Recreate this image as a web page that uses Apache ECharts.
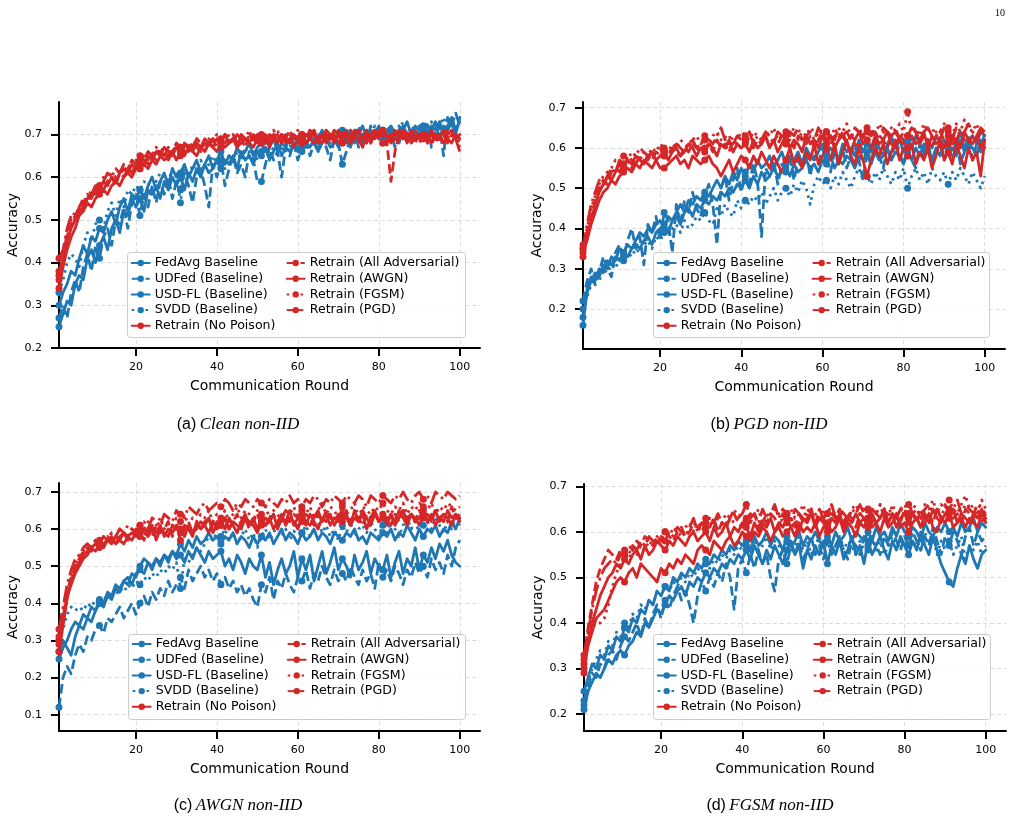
<!DOCTYPE html>
<html>
<head>
<meta charset="utf-8">
<title>Accuracy vs communication round</title>
<script src="https://cdn.jsdelivr.net/npm/echarts@6/dist/echarts.min.js"></script>
<style>
  html, body { margin: 0; padding: 0; background: #fff; }
  #main { width: 1026px; height: 822px; }
</style>
</head>
<body>
<div id="main"></div>
<script>
// accuracy values in percent, rounds 1..100
var rounds = [];
for (var r = 1; r <= 100; r++) rounds.push(r);

var xTicks = [20, 40, 60, 80, 100];
var yTicksA = [0.2, 0.3, 0.4, 0.5, 0.6, 0.7];
var yTicksB = [0.2, 0.3, 0.4, 0.5, 0.6, 0.7];
var yTicksC = [0.1, 0.2, 0.3, 0.4, 0.5, 0.6, 0.7];
var yTicksD = [0.2, 0.3, 0.4, 0.5, 0.6, 0.7];

var seriesNames = ['FedAvg Baseline', 'UDFed (Baseline)', 'USD-FL (Baseline)', 'SVDD (Baseline)',
  'Retrain (No Poison)', 'Retrain (All Adversarial)', 'Retrain (AWGN)', 'Retrain (FGSM)', 'Retrain (PGD)'];
var captions = [['(a)', 'Clean non-IID'], ['(b)', 'PGD non-IID'], ['(c)', 'AWGN non-IID'], ['(d)', 'FGSM non-IID']];

// (a) Clean non-IID
var aFedAvg = [25,28,31,30,35,37,36,41,43,40,44,46,43,48,50,47,52,51,55,53,55,52,57,56,58,55,59,57,60,58,60,57,61,59,62,60,63,61,62,64,62,64,63,65,62,66,64,65,63,66,65,67,64,66,68,65,67,66,68,67,66,68,67,69,66,68,69,67,68,70,68,69,67,70,69,68,70,69,71,69,70,68,71,69,70,72,70,69,71,70,71,70,72,71,73,70,72,74,71,73];
var aUDFed = [27,30,27,33,36,33,39,42,38,44,41,46,48,44,50,49,53,48,54,56,51,56,53,58,54,59,56,60,55,59,57,61,58,54,60,62,58,53,63,60,64,58,62,65,61,63,60,66,64,59,59,63,67,64,66,60,67,65,68,64,67,69,65,68,66,70,67,64,69,68,63,66,69,71,67,70,68,72,69,71,68,71,70,67,72,70,69,71,68,72,70,73,67,71,72,65,74,72,75,72];
var aUSDFL = [30,33,35,38,37,41,44,42,46,45,48,47,50,52,49,53,55,52,56,55,57,55,58,60,57,59,61,58,62,60,61,63,60,62,64,61,63,65,62,64,66,63,65,64,67,65,66,68,65,67,68,66,67,69,66,68,67,69,68,66,69,67,70,68,69,71,68,70,69,67,70,69,71,68,70,72,69,71,70,72,69,71,72,70,68,71,73,70,72,71,72,70,71,73,69,72,71,73,70,74];
var aSVDD = [33,36,40,42,41,39,44,47,45,49,50,48,52,54,51,55,53,57,56,58,57,59,58,60,59,61,60,59,62,61,54,62,60,63,61,64,62,63,65,63,64,62,65,63,66,64,67,65,66,64,66,68,65,67,69,66,68,67,69,68,67,69,70,68,70,69,71,68,70,69,71,70,71,69,72,70,71,69,72,70,71,69,72,70,71,73,70,72,71,70,72,71,73,70,72,74,71,73,72,71];
var aNoPoison = [34,39,43,46,48,51,52,54,53,55,56,57,56,58,59,58,60,61,60,62,62,63,62,64,63,65,64,65,66,64,66,65,67,66,65,67,66,68,67,66,68,67,68,69,67,68,69,68,67,69,68,69,67,69,68,70,68,69,67,69,68,70,69,68,69,70,68,69,70,68,69,70,68,69,71,69,70,68,70,69,70,68,69,70,71,69,70,68,69,70,69,70,68,70,69,71,69,68,70,69];
var aAllAdv = [38,41,47,49,51,53,54,56,55,57,58,57,59,60,58,61,60,62,61,63,62,64,63,65,64,66,65,64,66,67,65,67,66,68,67,66,68,67,69,68,67,69,68,70,68,69,67,70,69,68,69,70,68,69,70,68,69,71,69,70,68,70,69,71,69,68,70,69,71,70,69,68,70,69,71,70,68,70,69,71,70,68,59,66,70,69,71,70,68,70,69,71,70,68,70,69,71,70,69,67];
var aAWGN = [36,40,45,48,50,52,53,55,56,56,57,59,58,60,59,61,62,61,63,62,64,63,65,64,66,65,67,66,65,67,66,68,67,66,68,67,69,68,67,69,68,70,68,69,67,70,69,68,70,69,70,68,69,70,68,70,69,68,70,69,70,68,69,71,68,70,69,70,68,70,69,71,68,70,69,67,70,69,71,70,68,70,69,71,69,70,68,71,69,70,70,68,71,69,70,68,70,71,69,70];
var aFGSM = [37,41,46,50,52,51,54,55,57,56,58,60,59,61,60,62,61,63,62,64,63,65,64,66,65,67,66,65,67,66,67,66,68,67,69,68,67,69,68,70,69,68,70,69,68,70,69,71,68,70,69,70,68,71,69,70,68,70,69,71,69,70,71,69,70,68,70,69,71,70,70,69,71,70,68,70,69,71,70,69,71,69,70,68,71,70,69,70,71,68,70,69,71,70,68,70,69,71,70,68];
var aPGD = [41,43,48,51,50,53,55,54,56,58,57,59,61,60,62,61,63,62,64,63,65,64,66,65,67,66,65,67,66,68,67,66,68,67,69,68,66,68,69,67,68,70,69,68,70,69,68,70,69,70,68,69,70,69,71,68,70,69,70,68,70,69,71,70,68,69,71,70,69,71,68,70,69,71,70,69,71,68,70,69,71,70,68,70,69,71,70,68,70,69,70,68,71,69,70,71,68,70,69,66];

// (b) PGD non-IID
var bFedAvg = [16,25,28,27,30,29,32,31,33,32,34,33,35,36,35,37,38,36,39,40,41,39,42,43,41,44,45,43,46,45,47,46,48,47,49,48,50,49,51,50,52,50,53,51,54,52,53,55,53,54,55,53,56,54,55,57,55,56,54,57,56,58,55,57,56,58,57,55,58,57,58,56,59,57,58,60,57,59,58,56,59,57,60,58,61,59,57,60,58,61,59,60,58,62,59,61,60,58,62,60];
var bUDFed = [22,27,30,26,29,33,30,28,34,36,33,37,40,35,38,31,41,39,43,37,44,42,34,46,41,47,44,49,45,43,48,51,46,36,50,53,47,52,55,49,54,51,56,52,38,55,53,57,51,56,54,58,52,57,55,59,53,58,56,60,57,54,59,56,60,55,58,61,57,52,59,56,61,58,55,60,57,62,59,56,60,57,55,61,58,62,56,59,61,57,60,58,62,56,59,63,57,61,59,64];
var bUSDFL = [18,24,27,29,28,31,30,33,32,35,34,36,35,37,39,38,40,39,41,42,40,43,42,44,46,44,47,46,48,47,49,48,50,52,50,53,51,54,52,55,53,56,54,57,55,56,58,55,57,59,56,58,57,59,56,60,58,57,59,61,58,60,59,57,61,59,60,58,62,59,61,59,62,60,58,61,63,60,62,59,62,60,63,61,59,62,60,63,61,62,60,63,61,64,60,62,63,61,64,63];
var bSVDD = [20,23,26,28,27,30,29,31,30,33,32,34,33,35,34,36,37,35,38,37,39,38,40,41,39,42,40,41,43,42,44,42,41,45,43,46,44,43,47,45,47,46,48,47,49,46,48,50,47,49,50,48,51,49,52,50,46,51,53,51,52,50,53,51,54,52,50,53,55,52,53,51,54,52,55,53,51,54,52,55,50,53,55,52,54,51,55,53,52,54,51,54,52,55,53,51,54,52,50,53];
var bNoPoison = [34,37,41,44,47,49,50,52,51,53,54,55,54,56,55,57,56,55,57,55,55,56,57,58,56,57,55,58,57,56,57,58,56,55,53,55,57,54,56,58,57,55,58,56,59,57,55,58,56,54,57,60,56,58,55,59,57,61,56,58,60,57,61,56,59,62,58,56,60,57,53,57,60,58,61,56,59,62,57,60,58,61,56,59,57,60,55,58,62,57,59,56,61,58,55,60,57,59,53,62];
var bAllAdv = [35,39,43,47,50,52,51,54,55,54,56,57,55,58,57,59,58,57,59,58,59,58,60,59,58,60,59,61,60,59,60,61,59,62,60,61,59,62,61,60,62,61,60,62,61,63,60,62,61,63,61,62,60,63,62,61,63,60,62,64,62,61,63,62,64,61,63,62,60,63,62,64,61,63,62,60,63,64,62,61,63,62,64,61,63,62,60,63,64,62,61,63,62,64,62,61,63,62,64,63];
var bAWGN = [33,38,42,46,49,51,53,52,54,56,55,57,56,58,57,56,58,59,57,58,59,57,59,60,58,59,61,60,58,60,59,61,60,58,61,60,62,59,61,60,61,59,62,60,61,63,60,62,59,61,63,60,62,61,59,63,61,62,60,63,61,63,60,62,63,61,59,62,64,61,62,60,63,61,62,64,61,60,63,62,60,63,61,62,64,60,63,61,62,60,63,61,62,60,64,62,61,63,60,62];
var bFGSM = [36,40,45,48,51,53,54,55,57,56,58,57,59,58,60,59,58,60,59,61,60,59,61,60,62,61,60,62,63,61,62,61,63,64,62,63,61,63,62,64,63,62,64,63,62,64,63,65,62,63,64,63,65,62,64,63,65,64,63,65,64,62,65,63,64,66,63,64,65,63,64,65,63,66,64,63,65,64,66,64,69,64,65,63,66,64,65,63,64,66,65,63,66,64,67,65,64,66,63,65];
var bPGD = [35,41,46,49,52,50,53,55,54,57,56,58,57,56,58,59,57,59,58,60,58,60,59,61,60,59,61,62,60,61,63,62,61,63,65,62,63,61,63,62,62,64,61,63,62,64,63,61,64,63,62,64,63,65,62,63,64,62,65,63,64,63,62,65,63,64,62,65,64,63,65,63,64,62,65,64,63,65,62,64,63,65,64,62,64,65,63,64,62,65,64,62,65,63,64,66,64,63,65,64];

// (c) AWGN non-IID
var cFedAvg = [27,30,28,26,31,34,33,36,35,38,40,39,42,41,44,43,46,45,48,47,50,52,51,49,52,50,53,51,54,52,53,51,54,52,55,53,51,54,52,53,54,50,52,49,53,51,48,52,50,49,53,47,51,45,49,52,48,50,54,47,52,49,53,46,50,54,48,51,55,49,52,50,47,53,49,51,54,48,52,50,49,53,47,51,54,48,52,50,55,49,53,51,55,52,56,54,57,53,51,50];
var cUDFed = [12,20,23,21,26,29,27,31,30,33,34,32,36,35,37,39,36,38,40,37,40,42,39,43,41,44,42,46,43,45,47,44,49,46,48,50,47,49,46,48,45,47,44,46,43,45,42,44,41,39,45,43,47,41,46,44,48,45,43,47,46,49,44,48,46,50,47,45,49,46,48,46,50,47,45,49,46,48,44,51,47,49,46,50,48,45,49,47,51,48,50,47,52,49,51,48,53,50,55,57];
var cUSDFL = [25,28,30,33,35,34,37,36,39,38,41,40,43,42,45,44,46,47,45,48,49,48,51,50,52,51,53,52,54,53,56,54,57,55,58,56,57,59,57,58,56,58,57,59,56,58,57,55,58,56,58,57,59,56,58,60,57,59,58,56,59,57,58,60,57,59,58,56,59,58,57,59,58,60,57,58,56,59,58,57,59,58,60,57,59,58,61,59,57,60,58,60,59,61,58,60,59,62,60,63];
var cSVDD = [30,33,37,39,38,39,38,40,39,41,40,42,41,43,42,44,43,45,44,46,45,47,46,48,47,49,48,50,49,51,44,52,51,53,55,54,56,58,57,59,58,60,57,59,56,58,60,57,59,55,58,60,57,59,61,58,60,57,59,62,59,61,58,60,62,59,61,58,60,57,61,59,62,58,60,61,59,62,60,58,61,59,62,60,58,61,63,60,62,59,61,62,60,63,61,59,62,60,63,61];
var cNoPoison = [27,34,41,46,49,51,53,54,55,56,55,56,57,56,58,57,56,58,59,58,60,59,58,60,59,61,58,60,59,61,60,58,61,59,60,62,61,59,62,60,61,63,60,62,61,60,63,62,61,59,62,61,63,60,62,64,61,63,62,60,63,61,64,62,60,63,62,64,61,63,62,64,61,63,62,65,63,61,64,62,63,62,64,61,63,65,62,64,63,61,64,62,63,65,62,64,63,61,64,63];
var cAllAdv = [30,36,43,47,50,52,54,55,54,56,57,55,58,57,56,58,59,57,58,60,59,57,60,58,61,59,60,62,58,61,57,60,62,59,61,60,62,63,60,62,61,63,60,62,64,61,63,60,62,64,61,63,62,64,61,63,65,62,64,63,62,64,63,61,64,62,65,63,62,64,63,65,62,64,63,61,64,63,65,62,64,63,61,64,62,65,63,64,62,65,63,64,62,65,63,64,62,66,63,64];
var cAWGN = [29,35,42,45,48,50,52,53,55,54,56,55,57,58,56,57,59,58,57,59,58,60,59,61,57,60,59,58,61,60,59,61,60,58,62,60,61,63,59,61,62,60,63,61,59,62,64,61,63,60,63,61,62,64,60,63,62,65,61,63,64,62,61,63,65,62,64,61,63,62,64,63,61,65,62,64,60,63,65,62,63,61,64,62,65,63,61,64,62,63,65,62,64,61,63,62,65,63,64,62];
var cFGSM = [31,38,44,48,50,53,54,56,55,57,56,58,57,59,58,60,59,58,60,59,61,60,62,59,61,63,60,62,61,63,62,64,61,63,62,64,63,65,62,64,63,65,62,64,66,63,65,64,62,65,64,66,63,65,64,62,65,64,66,63,65,64,66,63,65,67,64,66,65,63,66,64,65,67,63,66,65,64,66,65,67,65,64,66,65,67,64,66,65,67,66,65,67,64,66,65,67,66,65,66];
var cPGD = [33,39,45,49,52,53,55,56,55,57,56,58,57,59,58,60,59,61,60,59,61,62,60,63,62,61,64,63,62,65,64,63,66,65,64,66,67,65,66,67,66,68,67,65,67,66,68,67,66,68,67,66,68,67,66,68,67,69,67,68,66,68,67,69,68,66,68,67,69,68,67,69,68,67,69,68,66,69,68,67,69,68,67,69,68,70,68,67,69,70,68,69,67,70,69,68,70,69,68,69];

// (d) FGSM non-IID
var dFedAvg = [21,25,27,29,28,30,32,31,33,34,33,35,36,38,37,40,39,41,43,42,44,46,45,47,48,46,49,48,50,49,51,50,52,51,53,52,54,53,55,54,56,54,57,55,53,56,54,57,55,53,56,58,55,57,52,56,54,57,55,58,53,57,55,58,54,56,59,55,57,53,58,55,57,59,56,54,58,56,59,57,55,58,56,60,57,55,59,56,53,51,49,48,52,55,53,57,54,52,55,56];
var dUDFed = [23,26,29,28,31,30,33,34,32,35,37,36,38,40,37,41,39,42,44,41,45,43,46,48,45,47,44,40,46,49,47,50,48,51,49,53,50,43,52,54,51,55,52,56,53,55,50,47,54,56,53,57,55,58,54,56,59,55,57,54,58,55,57,59,56,54,58,57,55,59,56,58,57,55,59,57,60,58,56,59,57,60,58,56,59,57,61,58,55,59,57,60,58,55,59,61,57,60,58,59];
var dUSDFL = [25,28,31,30,33,32,35,34,37,36,39,38,41,40,43,42,45,44,47,46,48,47,50,49,51,50,52,51,53,52,54,53,55,54,56,55,57,56,58,57,58,56,59,57,58,60,57,59,58,56,59,57,58,60,57,59,58,60,58,57,59,57,60,58,59,61,58,60,59,58,60,58,61,59,60,58,61,59,62,60,59,61,60,58,62,60,59,61,60,62,60,61,59,62,60,61,63,60,62,61];
var dSVDD = [22,27,30,32,34,33,36,35,38,37,40,39,42,41,44,43,45,44,47,46,48,47,49,48,50,49,51,50,52,51,53,52,54,53,55,54,56,55,57,56,57,55,58,56,57,59,56,58,57,55,58,56,57,59,56,58,55,57,59,56,58,55,57,59,56,58,57,55,58,56,57,59,56,58,55,57,59,56,58,57,59,57,58,56,60,57,59,55,58,56,58,55,57,59,54,57,56,58,55,57];
var dNoPoison = [30,35,38,41,42,43,45,47,49,50,49,51,52,50,53,52,51,50,49,52,51,53,52,54,53,55,54,53,56,57,56,55,58,57,56,58,59,57,58,60,59,58,60,59,61,60,58,60,61,59,60,61,59,62,60,61,60,62,59,61,62,60,61,63,60,62,61,59,62,61,63,61,62,60,63,61,62,64,61,62,60,62,63,61,62,64,61,60,63,62,64,61,62,63,61,63,62,61,64,63];
var dAllAdv = [32,39,44,49,52,54,56,55,54,56,55,57,56,58,57,59,58,57,59,58,60,59,58,60,61,59,60,62,61,60,62,61,63,60,62,61,63,64,62,61,63,62,64,61,63,62,64,63,61,64,62,63,61,64,62,63,65,62,64,63,61,64,63,65,62,64,63,61,64,63,65,62,64,63,65,62,64,63,62,65,63,64,62,65,63,64,62,65,63,64,65,63,64,62,65,64,63,65,62,64];
var dAWGN = [31,36,40,43,46,48,50,51,53,52,54,53,55,56,54,57,55,56,58,57,56,58,57,59,58,57,59,60,58,59,60,58,61,59,60,62,59,61,60,62,61,59,62,60,62,61,63,60,62,61,63,61,62,60,63,62,64,61,63,62,60,63,62,64,61,63,62,64,62,63,61,64,62,63,65,62,64,61,63,64,62,64,63,61,64,62,65,63,62,64,63,65,62,64,63,62,64,63,65,62];
var dFGSM = [29,36,39,40,40,41,44,48,51,53,55,54,56,55,57,56,58,57,59,58,60,59,61,60,59,61,62,60,62,61,63,62,61,63,62,64,63,62,64,63,62,64,63,65,62,64,63,65,64,62,64,65,63,64,66,63,65,64,62,65,64,66,63,65,64,62,65,66,64,65,63,65,64,66,65,63,66,64,65,66,64,66,65,63,66,65,67,64,66,65,67,65,64,66,68,65,66,64,67,65];
var dPGD = [33,38,43,47,50,52,53,54,53,55,56,55,57,56,58,57,59,58,57,59,58,60,59,61,60,59,61,63,60,62,61,63,62,64,62,61,63,65,63,64,66,63,64,62,65,63,64,66,63,65,64,62,65,64,63,65,64,62,65,63,64,66,63,65,64,63,65,64,66,64,63,65,64,66,63,65,64,63,65,64,66,64,65,63,65,66,64,65,63,66,64,65,67,64,66,65,64,66,65,64];

var panelData = [
  [aFedAvg, aUDFed, aUSDFL, aSVDD, aNoPoison, aAllAdv, aAWGN, aFGSM, aPGD],
  [bFedAvg, bUDFed, bUSDFL, bSVDD, bNoPoison, bAllAdv, bAWGN, bFGSM, bPGD],
  [cFedAvg, cUDFed, cUSDFL, cSVDD, cNoPoison, cAllAdv, cAWGN, cFGSM, cPGD],
  [dFedAvg, dUDFed, dUSDFL, dSVDD, dNoPoison, dAllAdv, dAWGN, dFGSM, dPGD]
];
var yTicks = [yTicksA, yTicksB, yTicksC, yTicksD];

// layout (pixels)
var blue = '#1f77b4', red = '#d62728';
var dashed = [9.6, 4.2], dotted = [2.6, 4.3], dashDot = [16.6, 4.2, 2.6, 4.2];
var lineStyles = [
  { color: blue, type: 'solid' }, { color: blue, type: dashed }, { color: blue, type: 'solid' }, { color: blue, type: dotted },
  { color: red, type: 'solid' }, { color: red, type: dashed }, { color: red, type: 'solid' }, { color: red, type: dotted }, { color: red, type: dashDot }
];
var layout = [
  { grid: { left: 59, top: 102, width: 421, height: 246 }, yRange: [0.2, 0.776], leg: [130.7, 285.7, 256], box: [127, 252, 338, 85], cap: [238, 425] },
  { grid: { left: 583, top: 102, width: 422, height: 247 }, yRange: [0.101, 0.714], leg: [656.7, 811.7, 256], box: [653, 252, 336, 85], cap: [769, 425] },
  { grid: { left: 59, top: 483, width: 421, height: 248 }, yRange: [0.056, 0.724], leg: [131.7, 286.7, 637], box: [128, 634, 337, 85], cap: [238, 806] },
  { grid: { left: 584, top: 484, width: 422, height: 247 }, yRange: [0.163, 0.705], leg: [656.7, 812.7, 637], box: [653, 634, 337, 85], cap: [770, 806] }
];

var font = 'DejaVu Sans';
var option = {
  animation: false,
  backgroundColor: '#fff',
  grid: [], xAxis: [], yAxis: [], legend: [], series: [],
  graphic: [{
    type: 'text', x: 1000, y: 13,
    style: { text: '10', font: '10px "Liberation Serif"', fill: '#000', align: 'center', verticalAlign: 'middle' }
  }]
};

layout.forEach(function (p, k) {
  option.grid.push(p.grid);
  option.xAxis.push({
    type: 'value', gridIndex: k, min: 1, max: 105,
    name: 'Communication Round', nameLocation: 'middle', nameGap: 31,
    nameTextStyle: { fontFamily: font, fontSize: 14, color: '#000' },
    axisLine: { show: true, onZero: false, lineStyle: { color: '#000', width: 2 } },
    axisTick: { show: true, length: 8, lineStyle: { color: '#000', width: 2 }, customValues: xTicks },
    axisLabel: { fontFamily: font, fontSize: 11, color: '#000', margin: 14, customValues: xTicks },
    splitLine: { show: true, lineStyle: { color: '#dcdcdc', type: [4, 3], width: 1 } }
  });
  option.yAxis.push({
    type: 'value', gridIndex: k, min: p.yRange[0], max: p.yRange[1],
    name: 'Accuracy', nameLocation: 'middle', nameGap: 38,
    nameTextStyle: { fontFamily: font, fontSize: 14, color: '#000' },
    axisLine: { show: true, onZero: false, lineStyle: { color: '#000', width: 2 } },
    axisTick: { show: true, length: 8, lineStyle: { color: '#000', width: 2 }, customValues: yTicks[k] },
    axisLabel: { fontFamily: font, fontSize: 11, color: '#000', margin: 17, customValues: yTicks[k],
      formatter: function (v) { return v.toFixed(1); } },
    splitLine: { show: true, lineStyle: { color: '#dcdcdc', type: [4, 3], width: 1 } }
  });

  panelData[k].forEach(function (arr, i) {
    var st = lineStyles[i];
    option.series.push({
      type: 'line', name: seriesNames[i], xAxisIndex: k, yAxisIndex: k,
      data: arr.map(function (v, j) { return [rounds[j], v / 100]; }),
      symbol: 'circle',
      symbolSize: function (v, params) { return params.dataIndex % 10 === 0 ? 7 : 0; },
      showAllSymbol: true,
      color: st.color,
      itemStyle: { color: st.color },
      lineStyle: { color: st.color, width: 2.8, type: st.type, cap: st.type === 'solid' ? 'round' : 'butt', join: 'round' },
      emphasis: { disabled: true },
      z: 2
    });
  });

  var legendCommon = {
    orient: 'vertical', top: p.leg[2], padding: 0, itemGap: 1.7,
    itemWidth: 18, itemHeight: 8, selectedMode: false,
    textStyle: { fontFamily: font, fontSize: 12.6, color: '#000', lineHeight: 14 },
    z: 5
  };
  option.legend.push(Object.assign({ left: p.leg[0], data: seriesNames.slice(0, 5) }, legendCommon));
  option.legend.push(Object.assign({ left: p.leg[1], data: seriesNames.slice(5) }, legendCommon));

  option.graphic.push({
    type: 'rect', left: p.box[0], top: p.box[1], z: 4,
    shape: { width: p.box[2], height: p.box[3], r: 3 },
    style: { fill: 'rgba(255,255,255,0.85)', stroke: '#cccccc', lineWidth: 1 }
  });
  option.graphic.push({
    type: 'text', x: p.cap[0], y: p.cap[1],
    style: {
      text: '{a|' + captions[k][0] + '} {b|' + captions[k][1] + '}',
      align: 'center', verticalAlign: 'middle',
      rich: {
        a: { fontFamily: 'Liberation Sans', fontSize: 16, fill: '#000' },
        b: { fontFamily: 'Liberation Serif', fontStyle: 'italic', fontSize: 17, fill: '#000' }
      }
    }
  });
});

var chart = echarts.init(document.getElementById('main'), null, { renderer: 'canvas' });
chart.setOption(option);
</script>
</body>
</html>
